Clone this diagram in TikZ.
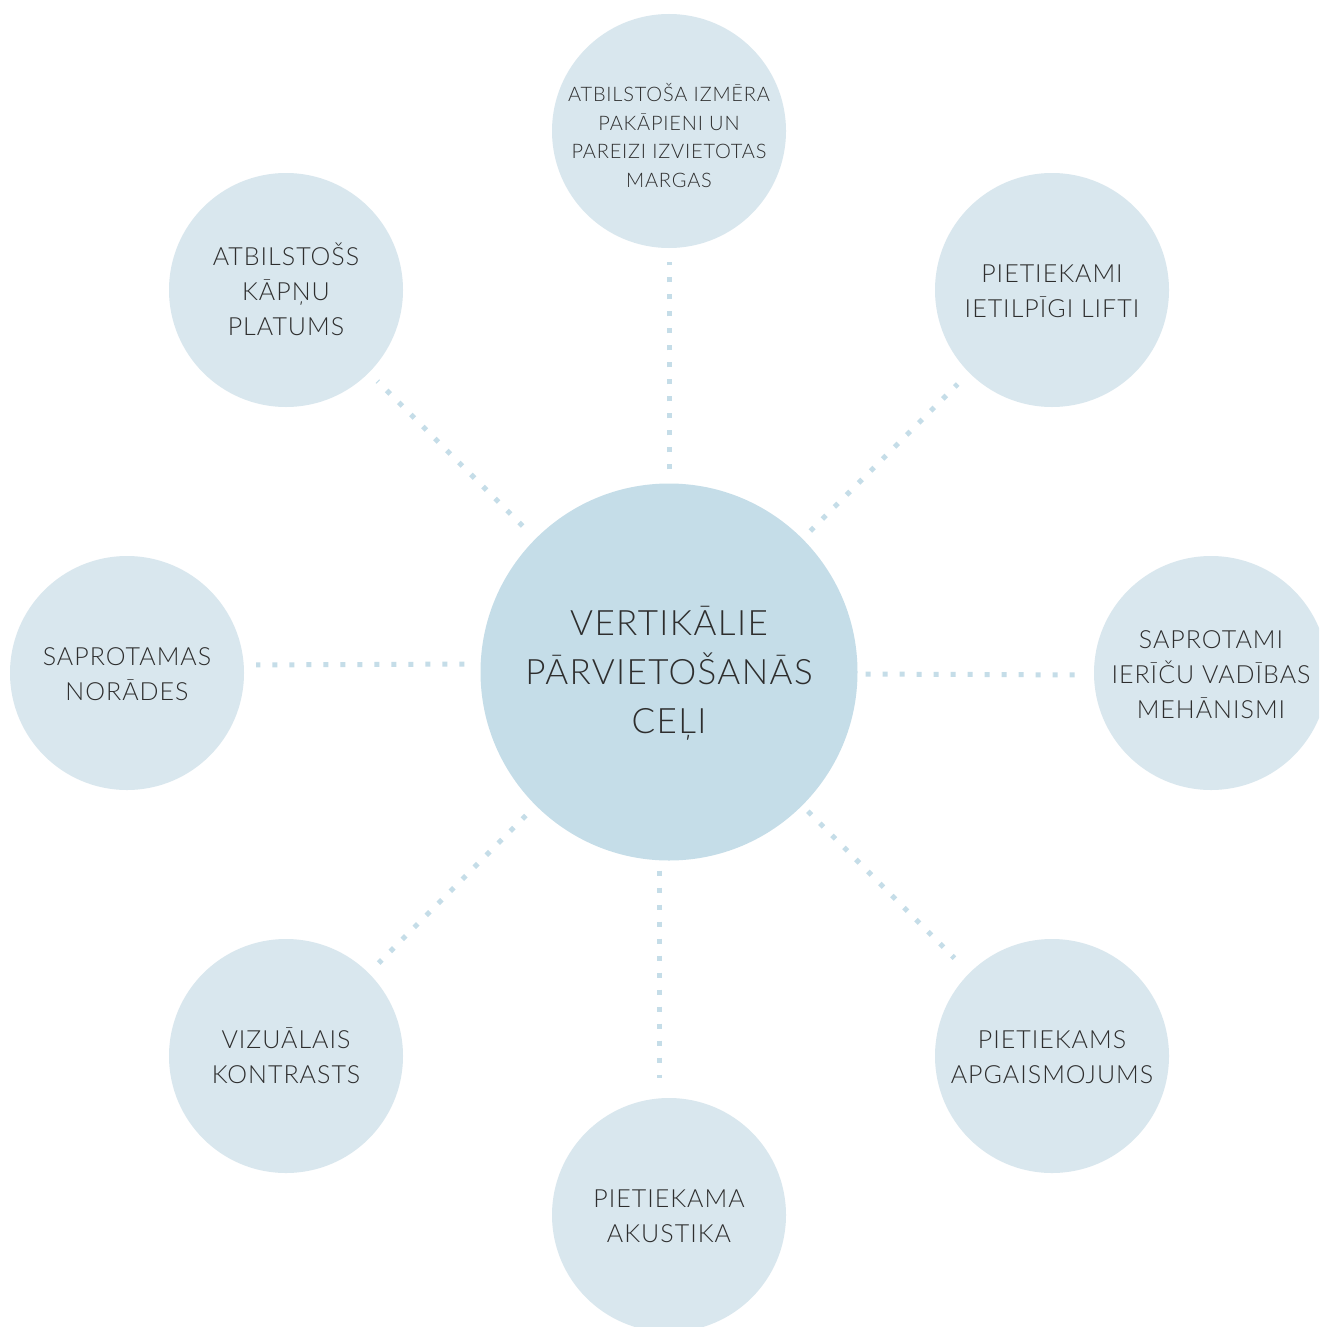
\documentclass[tikz,border=0pt]{standalone}
\usepackage{fontspec}
\setmainfont{Lato}[UprightFont=* Light, LetterSpace=4]
\definecolor{outerc}{HTML}{D9E7EE}
\definecolor{hubc}{HTML}{C5DDE8}
\definecolor{dotc}{HTML}{C5DDE8}
\definecolor{txt}{HTML}{2E2E2E}
\begin{document}
\begin{tikzpicture}[x=1pt,y=-1pt,
  outer/.style={circle, fill=outerc, minimum size=234pt, inner sep=0pt, align=center, text=txt, font=\fontsize{25}{35}\selectfont, text height=90.9pt, text depth=0pt},
  two/.style={text height=55.9pt},
  hub/.style={circle, fill=hubc, minimum size=377pt, inner sep=0pt, align=center, text=txt, font=\fontsize{35}{49}\selectfont, text height=123.1pt, text depth=0pt},
  dotline/.style={draw=dotc, line width=5pt, dash pattern=on 5pt off 12pt}]
\useasboundingbox (0,0) rectangle (1319,1327);
\clip (0,0) rectangle (1319,1327);
\fill[white] (0,0) rectangle (1319,1327);
\node[hub] (c) at (669,672) {VERTIKĀLIE\\PĀRVIETOŠANĀS\\CEĻI};
\node[outer, font=\fontsize{20}{28.5}\selectfont, text height=112.8pt] (t) at (669,131) {ATBILSTOŠA IZMĒRA\\PAKĀPIENI UN\\PAREIZI IZVIETOTAS\\MARGAS};
\node[outer] (tl) at (286,290) {ATBILSTOŠS\\KĀPŅU\\PLATUMS};
\node[outer, two] (tr) at (1052,290) {PIETIEKAMI\\IETILPĪGI LIFTI};
\node[outer, two] (l) at (127,673) {SAPROTAMAS\\NORĀDES};
\node[outer] (r) at (1211,673) {SAPROTAMI\\IERĪČU VADĪBAS\\MEHĀNISMI};
\node[outer, two] (bl) at (286,1056) {VIZUĀLAIS\\KONTRASTS};
\node[outer, two] (br) at (1052,1056) {PIETIEKAMS\\APGAISMOJUMS};
\node[outer, two] (b) at (669,1215) {PIETIEKAMA\\AKUSTIKA};
\draw[dotline, shorten <=14pt, shorten >=14pt] (c) -- (t);
\draw[dotline, shorten <=18pt, shorten >=12pt] (c) -- (tl);
\draw[dotline, shorten <=11pt, shorten >=16pt] (c) -- (tr);
\draw[dotline, shorten <=16pt, shorten >=12pt] ([yshift=8pt]c.west) -- ([yshift=8pt]l.east);
\draw[dotline, shorten <=8pt, shorten >=19pt] ([yshift=-2pt]c.east) -- ([yshift=-2pt]r.west);
\draw[dotline, shorten <=14pt, shorten >=14pt] (c) -- (bl);
\draw[dotline, shorten <=10pt, shorten >=20pt] ([xshift=-10pt]c.south) -- ([xshift=-10pt]b.north);
\draw[dotline, shorten <=8pt, shorten >=21pt] (c) -- (br);
\end{tikzpicture}
\end{document}
